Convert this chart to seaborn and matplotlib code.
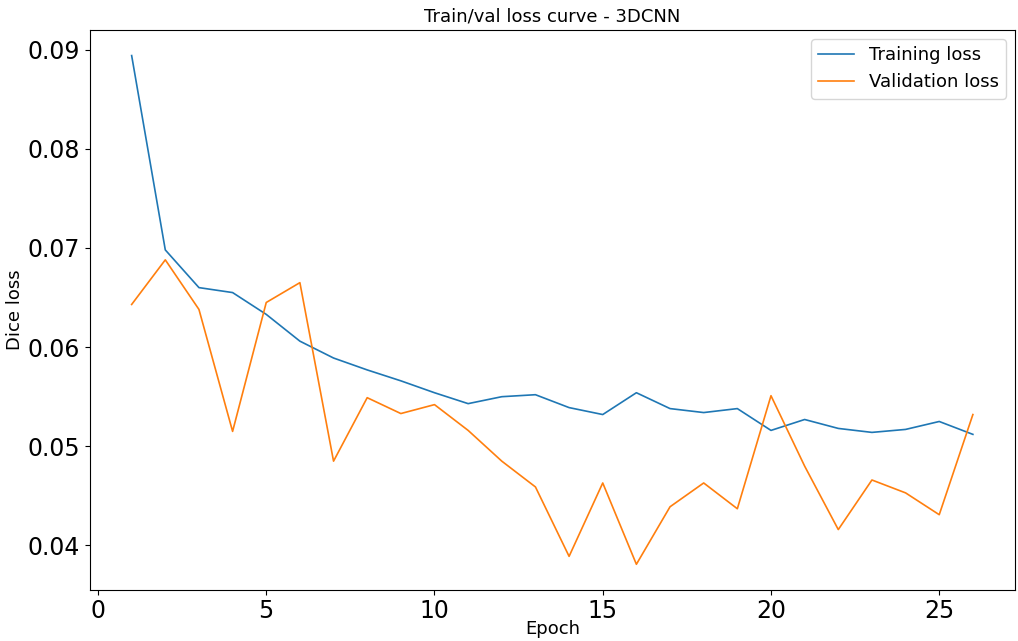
import matplotlib
matplotlib.use("Agg")
import matplotlib.pyplot as plt
import seaborn as sns
import pandas as pd

epochs = list(range(1, 27))
train_loss = [0.0894, 0.0698, 0.0660, 0.0655, 0.0633, 0.0606, 0.0589, 0.0577, 0.0566, 0.0554,
              0.0543, 0.0550, 0.0552, 0.0539, 0.0532, 0.0554, 0.0538, 0.0534, 0.0538, 0.0516,
              0.0527, 0.0518, 0.0514, 0.0517, 0.0525, 0.0512]
val_loss = [0.0643, 0.0688, 0.0638, 0.0515, 0.0645, 0.0665, 0.0485, 0.0549, 0.0533, 0.0542,
            0.0516, 0.0485, 0.0459, 0.0389, 0.0463, 0.0381, 0.0439, 0.0463, 0.0437, 0.0551,
            0.0480, 0.0416, 0.0466, 0.0453, 0.0431, 0.0532]
series_names = ["Training loss", "Validation loss"]

df = pd.DataFrame({
    "Epoch": epochs * 2,
    "loss": train_loss + val_loss,
    "series": [series_names[0]] * len(epochs) + [series_names[1]] * len(epochs),
})

fig, ax = plt.subplots(figsize=(10.18, 6.41), dpi=100)
sns.lineplot(data=df, x="Epoch", y="loss", hue="series",
             palette=["#1f77b4", "#ff7f0e"], linewidth=1.2, ax=ax)
ax.set_title("Train/val loss curve - 3DCNN", fontsize=13)
ax.set_xlabel("Epoch", fontsize=13)
ax.set_ylabel("Dice loss", fontsize=13)
ax.tick_params(axis="both", labelsize=17)
ax.set_xticks([0, 5, 10, 15, 20, 25])
ax.legend(title=None, fontsize=13, loc="upper right")
fig.subplots_adjust(left=0.088, right=0.997, top=0.953, bottom=0.08)
ax.yaxis.set_label_coords(-0.071, 0.5)
ax.xaxis.set_label_coords(0.5, -0.055)
fig.savefig("out.png", dpi=100)
